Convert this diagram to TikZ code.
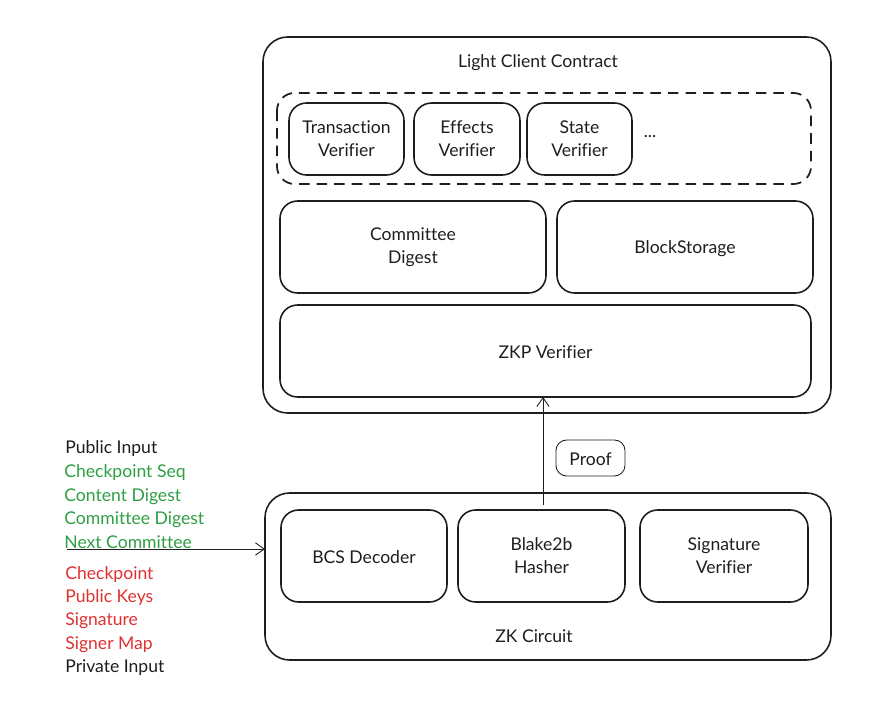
\documentclass[tikz,border=0pt]{standalone}
\usepackage{fontspec}
\setmainfont{Lato}[Ligatures=NoCommon]
\usetikzlibrary{arrows.meta}
\definecolor{ink}{HTML}{1E1E1E}
\definecolor{grn}{HTML}{2F9E44}
\definecolor{rd}{HTML}{E03131}
\tikzset{
  px/.style={x=0.02cm,y=-0.02cm},
  box/.style={draw=ink,line width=0.9pt,rounded corners=10pt},
  bigbox/.style={draw=ink,line width=0.9pt,rounded corners=14pt},
  lbl/.style={font=\fontsize{10}{13}\selectfont,text=ink,align=center},
  side/.style={font=\fontsize{10}{13}\selectfont,anchor=base west,inner sep=0pt},
  conn/.style={draw=ink,line width=0.5pt,-{Straight Barb[length=5pt,width=7pt]}}
}
\begin{document}
\begin{tikzpicture}[px]
\useasboundingbox (0,0) rectangle (882,709);
% contract
\draw[bigbox] (263,37) rectangle (831,413);
\node[lbl] (title) at (538,63) {Light Client Contract};
\draw[box,dashed,dash pattern=on 6pt off 4pt,line width=1pt] (277,93) rectangle (811,184);
\draw[box] (289,103) rectangle (404,175);
\node[lbl] (tv) at (346.5,139) {Transaction\\Verifier};
\draw[box] (414,103) rectangle (520,175);
\node[lbl] (ev) at (467,139) {Effects\\Verifier};
\draw[box] (527,103) rectangle (632,175);
\node[lbl] (sv) at (579.5,139) {State\\Verifier};
\node[lbl] (dots) at (650,137) {...};
\draw[box] (280,201) rectangle (546,293);
\node[lbl] (cd) at (413,247) {Committee\\Digest};
\draw[box] (557,201) rectangle (813,293);
\node[lbl] (bs) at (685,249) {BlockStorage};
\draw[box] (280,305) rectangle (811,397);
\node[lbl] (zkp) at (545.5,352) {ZKP Verifier};
\coordinate (zkpb) at (543,397);
% zk circuit
\draw[bigbox] (265,493) rectangle (831,660);
\node[lbl] (zkc) at (534,636) {ZK Circuit};
\draw[box] (281,510) rectangle (447,602);
\node[lbl] (bcs) at (364,557) {BCS Decoder};
\draw[box] (458,510) rectangle (625,602);
\node[lbl] (b2b) at (541.5,556) {Blake2b\\Hasher};
\draw[box] (640,510) rectangle (808,602);
\node[lbl] (sig) at (724,556) {Signature\\Verifier};
\coordinate (arrstart) at (543,505);
% proof
\draw[draw=ink,line width=0.5pt,rounded corners=6pt] (556,440) rectangle (625,476);
\node[lbl] (proof) at (590.5,459) {Proof};
\draw[conn] (arrstart) -- (zkpb);
% left inputs
\coordinate (lin) at (67,549);
\coordinate (lout) at (265,549);
\draw[conn] (lin) -- (lout);
\node[side,text=ink] (pi) at (65,453) {Public Input};
\node[side,text=grn] (t1) at (64,477) {Checkpoint Seq};
\node[side,text=grn] (t2) at (64,501) {Content Digest};
\node[side,text=grn] (t3) at (64,524) {Committee Digest};
\node[side,text=grn] (t4) at (64,548) {Next Committee};
\node[side,text=rd] (t5) at (65,579) {Checkpoint};
\node[side,text=rd] (t6) at (65,602) {Public Keys};
\node[side,text=rd] (t7) at (65,625) {Signature};
\node[side,text=rd] (t8) at (65,649) {Signer Map};
\node[side,text=ink] (pri) at (65,672) {Private Input};
\end{tikzpicture}
\end{document}
